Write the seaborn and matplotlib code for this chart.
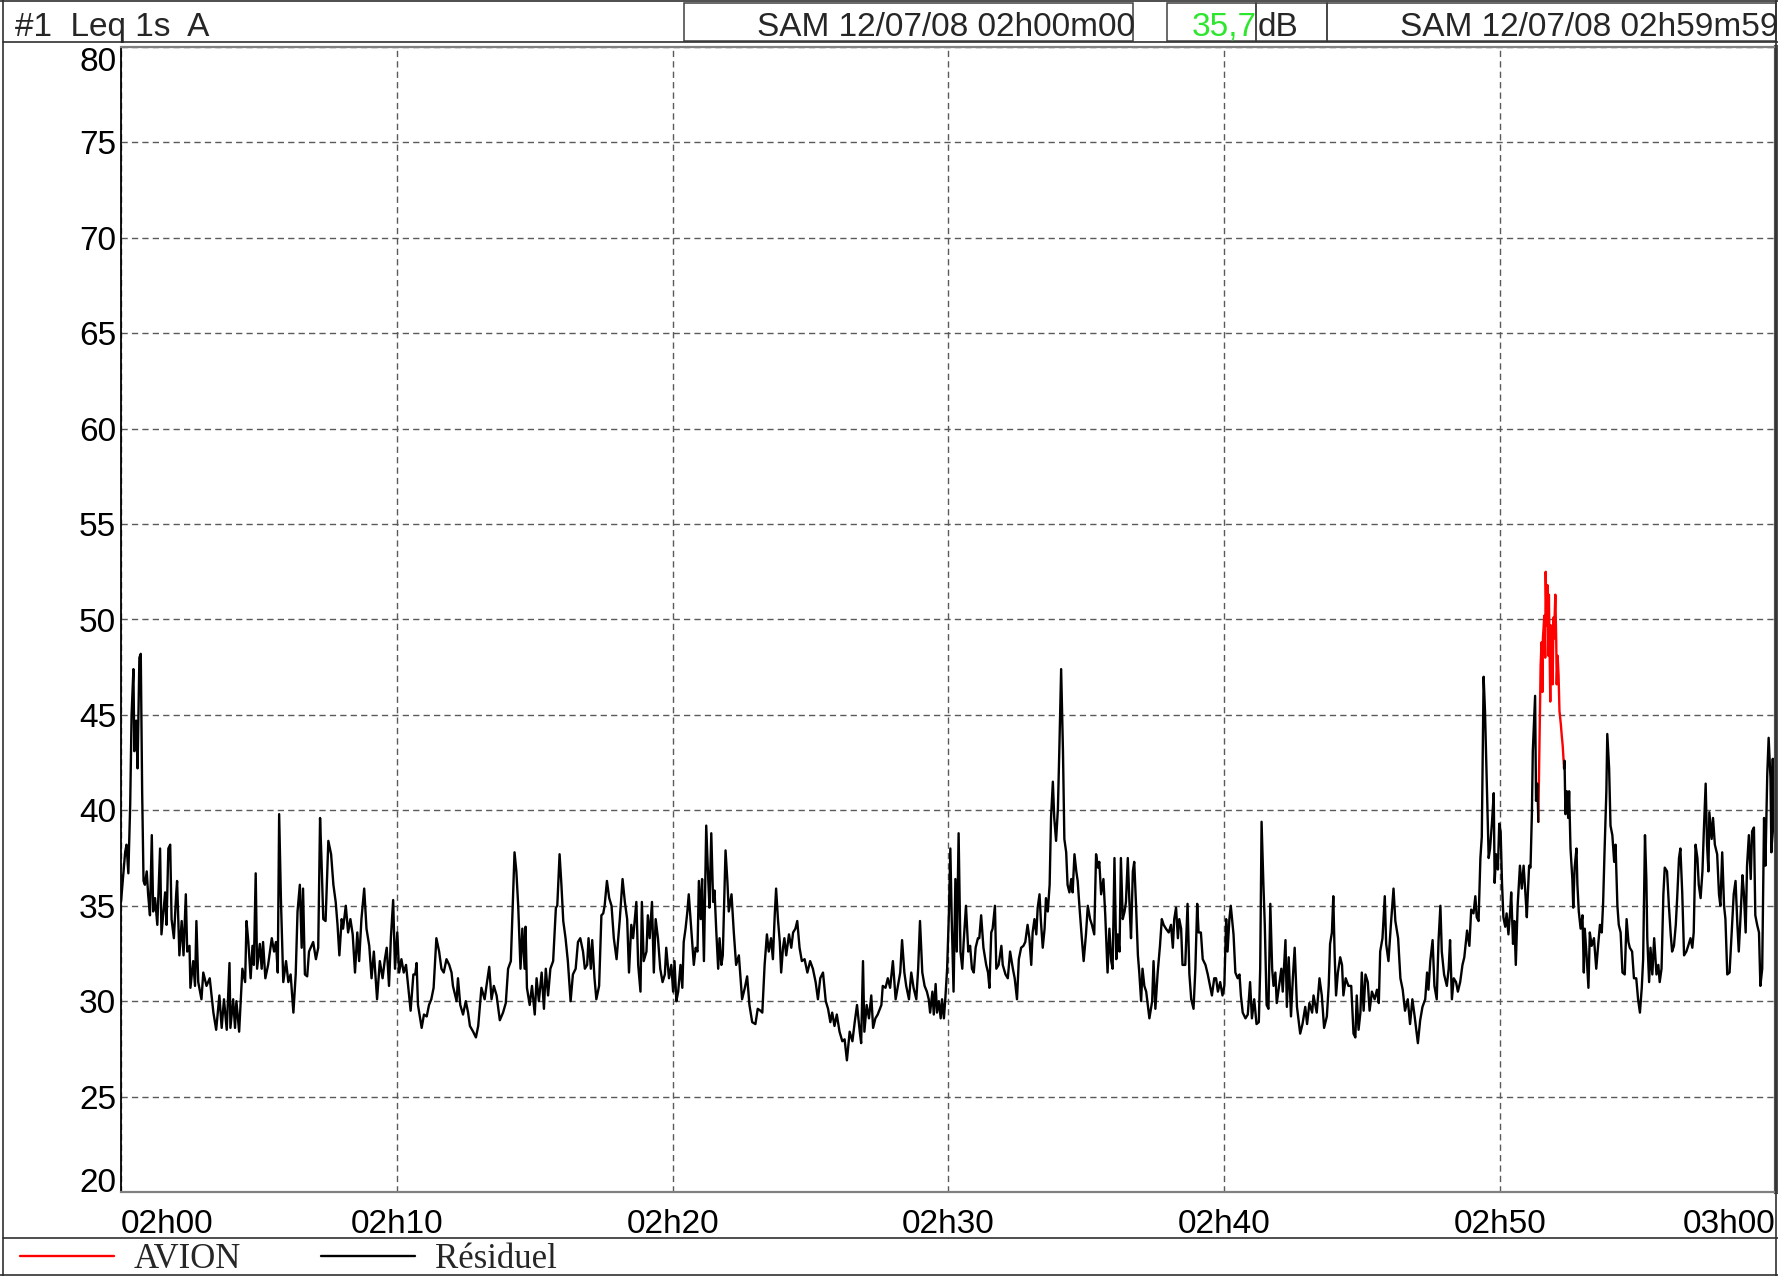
import matplotlib
matplotlib.use('Agg')
import matplotlib.pyplot as plt
import pandas as pd
import seaborn as sns
from matplotlib.lines import Line2D
from matplotlib.patches import Rectangle

W, H = 1778, 1276

# Leq 1s values: (seconds after 02h00m00, dB)
before = [
    (0, 35.2), (9, 37.8), (12, 38.2), (16, 36.7), (20, 40.3), (23, 45.0), (27, 47.4), (29, 43.1),
    (33, 44.7), (36, 42.2), (40, 48.0), (43, 48.2), (46, 41.0), (49, 36.3), (52, 36.1), (56, 36.8),
    (59, 35.6), (63, 34.5), (67, 38.7), (70, 34.7), (74, 35.4), (79, 34.0), (85, 38.0), (88, 33.5),
    (96, 35.7), (99, 34.0), (103, 38.0), (107, 38.2), (110, 34.3), (115, 33.3), (120, 35.6), (122, 36.3),
    (127, 32.4), (132, 34.2), (136, 32.4), (141, 35.6), (144, 32.6), (149, 32.9), (151, 30.7), (157, 32.1),
    (161, 30.8), (164, 34.2), (168, 31.0), (175, 30.1), (179, 31.5), (186, 30.8), (193, 31.2), (201, 29.4),
    (207, 28.5), (214, 30.3), (219, 28.6), (224, 30.1), (230, 28.5), (236, 32.0), (238, 28.6), (244, 30.1),
    (248, 28.6), (251, 30.0), (257, 28.4), (264, 31.7), (270, 31.0), (273, 34.2), (277, 33.1), (282, 31.2),
    (286, 32.9), (289, 31.9), (293, 36.7), (296, 31.7), (302, 33.0), (306, 31.7), (309, 33.1), (314, 31.2),
    (320, 31.9), (328, 33.3), (333, 32.6), (337, 33.1), (341, 31.5), (344, 39.8), (348, 35.2), (353, 31.0),
    (359, 32.1), (364, 31.0), (369, 31.4), (375, 29.4), (380, 31.4), (384, 34.7), (389, 36.1), (393, 32.8),
    (396, 35.9), (400, 31.4), (405, 31.3), (409, 32.6), (418, 33.1), (424, 32.2), (429, 32.8), (433, 39.6),
    (436, 37.5), (440, 34.3), (445, 34.2), (451, 38.4), (457, 37.7), (462, 36.1), (467, 35.2), (471, 34.0),
    (475, 32.4), (480, 34.3), (483, 33.8), (489, 35.0), (494, 33.6), (499, 34.3), (504, 33.5), (509, 31.5),
    (514, 33.6), (518, 32.1), (523, 34.3), (529, 35.9), (534, 33.8), (540, 32.9), (545, 31.2), (550, 32.6),
    (557, 30.1), (563, 32.1), (569, 31.2), (574, 32.2), (578, 32.8), (583, 30.8), (587, 33.3), (592, 35.3),
    (596, 31.7), (601, 33.6), (605, 31.5),
    (610, 32.2), (615, 31.5), (620, 31.9), (625, 30.7), (630, 29.5), (636, 31.4), (640, 31.4), (643, 32.0),
    (646, 29.8), (654, 28.6), (659, 29.3), (665, 29.2), (670, 29.8), (675, 30.1), (680, 30.7), (686, 33.3),
    (692, 32.6), (697, 31.7), (702, 31.5), (708, 32.2), (714, 31.9), (719, 31.5), (722, 30.8), (730, 30.0),
    (733, 31.2), (738, 29.8), (744, 29.3), (750, 30.0), (755, 29.4), (759, 28.7), (766, 28.4), (772, 28.1),
    (777, 28.7), (784, 30.7), (791, 30.1), (795, 30.8), (801, 31.8), (806, 30.1), (811, 30.8), (817, 30.3),
    (824, 29.0), (831, 29.4), (837, 29.9), (842, 31.7), (848, 32.1), (851, 34.3), (856, 37.8), (860, 36.8),
    (864, 35.0), (869, 31.7), (873, 33.8), (878, 31.7), (880, 33.9), (883, 30.7), (889, 29.8), (894, 30.8),
    (900, 29.3), (904, 31.2), (909, 30.0), (915, 31.5), (920, 29.6), (924, 31.7), (929, 30.3), (934, 31.7),
    (940, 32.1), (946, 34.9), (949, 35.0), (954, 37.7), (958, 36.1), (962, 34.2), (967, 33.3), (972, 32.1),
    (978, 30.0), (983, 31.4), (989, 31.7), (994, 33.1), (999, 33.3), (1005, 32.6), (1009, 31.7), (1014, 31.9),
    (1017, 33.3), (1022, 31.7), (1025, 33.2), (1030, 31.2), (1034, 30.1), (1040, 30.8), (1045, 34.5),
    (1049, 34.6), (1052, 35.0), (1057, 36.3), (1062, 35.4), (1067, 35.0), (1072, 33.3), (1078, 32.2),
    (1085, 34.3), (1091, 36.4), (1096, 35.2), (1101, 34.3), (1105, 31.5), (1110, 34.0), (1114, 33.3),
    (1121, 35.2), (1125, 31.9), (1130, 30.5), (1133, 35.2), (1137, 32.1), (1143, 32.6), (1146, 34.5),
    (1150, 33.3), (1155, 35.2), (1159, 31.5), (1163, 34.3), (1168, 33.3), (1173, 31.7), (1178, 31.0),
    (1183, 31.4), (1186, 32.8), (1192, 31.2), (1197, 31.9), (1201, 30.5), (1204, 32.1), (1208, 30.0),
    (1212, 30.5), (1217, 31.9), (1221, 30.7), (1224, 33.1), (1228, 33.8), (1232, 34.7), (1235, 35.6),
    (1241, 33.6), (1246, 31.9), (1250, 32.8), (1254, 32.6), (1257, 36.3), (1261, 34.3), (1264, 36.4),
    (1268, 32.1), (1273, 39.2), (1277, 36.6), (1280, 34.9), (1284, 38.8), (1288, 35.2), (1291, 35.8),
    (1295, 33.6), (1299, 31.7), (1302, 33.3), (1306, 31.9), (1309, 32.4), (1315, 37.9), (1319, 36.3),
    (1322, 34.7), (1328, 35.6), (1333, 33.6), (1338, 31.9), (1344, 32.4), (1351, 30.1), (1357, 30.7),
    (1362, 31.3), (1367, 29.8), (1373, 28.9), (1380, 28.8), (1385, 29.6), (1391, 29.5), (1395, 29.4),
    (1400, 31.9), (1405, 33.5), (1409, 32.6), (1414, 33.3), (1418, 32.2), (1422, 34.5), (1425, 35.9),
    (1429, 34.3), (1433, 33.1), (1436, 31.5), (1440, 32.8), (1443, 33.3), (1447, 32.4), (1453, 33.5),
    (1458, 32.8), (1462, 33.6), (1467, 33.8), (1471, 34.2), (1476, 32.8), (1481, 32.1), (1487, 32.2),
    (1493, 31.5), (1499, 32.1), (1505, 31.7), (1511, 31.0), (1516, 30.1), (1521, 31.2), (1527, 31.5),
    (1533, 30.0), (1538, 29.6), (1543, 28.9), (1547, 29.4), (1552, 28.7), (1557, 29.3), (1563, 28.4),
    (1569, 27.9), (1574, 28.0), (1579, 26.9), (1585, 28.4), (1591, 27.9), (1596, 28.9), (1601, 29.8),
    (1607, 28.4), (1610, 27.8), (1614, 32.1), (1617, 28.4), (1622, 29.8), (1627, 29.1), (1632, 30.3),
    (1636, 28.6), (1641, 29.1), (1646, 29.3), (1654, 29.8), (1657, 30.8), (1663, 30.7), (1668, 31.2),
    (1673, 30.7), (1679, 32.1), (1685, 30.1), (1690, 30.8), (1695, 31.5), (1699, 33.2), (1704, 31.5),
    (1708, 30.8), (1714, 30.1), (1719, 31.5), (1724, 30.7), (1730, 30.1), (1734, 31.7), (1738, 34.2),
    (1743, 31.5), (1748, 30.8), (1753, 30.5), (1757, 30.1), (1760, 29.4), (1765, 30.5), (1768, 29.3),
    (1772, 30.9), (1775, 29.4), (1779, 30.0), (1783, 29.1), (1786, 30.1), (1790, 29.1), (1793, 30.1),
    (1797, 31.7), (1801, 34.7), (1804, 38.0), (1807, 34.3), (1811, 30.5), (1815, 36.4), (1818, 32.6),
    (1822, 38.8), (1826, 32.6), (1830, 31.7), (1833, 33.1), (1838, 35.0), (1843, 32.6), (1847, 32.9),
    (1851, 31.7), (1855, 31.5), (1859, 32.8), (1864, 33.3),
    (1867, 33.3), (1871, 34.5), (1876, 32.8), (1882, 31.9), (1886, 31.5), (1889, 30.7), (1893, 33.6),
    (1896, 33.8), (1901, 35.0), (1904, 31.7), (1909, 31.9), (1915, 32.9), (1918, 31.9), (1924, 31.4),
    (1929, 31.2), (1934, 32.6), (1940, 31.7), (1944, 31.2), (1949, 30.1), (1953, 32.2), (1958, 32.8),
    (1963, 32.9), (1967, 33.1), (1972, 34.0), (1976, 33.3), (1980, 31.9), (1983, 33.6), (1987, 34.3),
    (1991, 33.5), (1994, 34.9), (1998, 35.6), (2001, 34.2), (2005, 32.8), (2009, 33.8), (2012, 35.4),
    (2016, 34.7), (2020, 36.1), (2023, 39.6), (2027, 41.5), (2030, 39.6), (2034, 38.4), (2038, 40.1),
    (2041, 43.1), (2045, 47.4), (2049, 43.1), (2052, 38.5), (2056, 37.8), (2059, 36.1), (2063, 35.7),
    (2067, 36.4), (2070, 35.7), (2074, 37.7), (2078, 36.8), (2081, 36.3), (2085, 34.9), (2090, 33.3),
    (2094, 32.1), (2099, 33.5), (2103, 35.0), (2108, 34.3), (2112, 34.0), (2117, 33.5), (2121, 37.7),
    (2125, 37.0), (2128, 37.3), (2132, 35.6), (2137, 36.4), (2141, 34.5), (2146, 31.5), (2150, 33.8),
    (2154, 32.1), (2157, 31.7), (2161, 37.5), (2165, 32.2), (2168, 33.5), (2172, 32.6), (2175, 37.5),
    (2179, 34.3), (2183, 34.7), (2186, 35.2), (2190, 37.5), (2194, 34.9), (2197, 33.3), (2201, 36.8),
    (2204, 37.3), (2208, 35.0), (2212, 32.4), (2215, 31.5), (2219, 30.0), (2222, 31.7), (2226, 30.8),
    (2230, 30.5), (2237, 29.1), (2243, 30.0), (2246, 32.1), (2250, 29.6), (2255, 31.5), (2260, 32.9),
    (2264, 34.3), (2268, 34.0), (2273, 33.8), (2279, 33.6), (2284, 34.0), (2288, 32.8), (2291, 34.3),
    (2295, 34.9), (2299, 33.3), (2302, 34.3), (2306, 33.8), (2309, 31.9), (2315, 31.9), (2320, 35.1),
    (2324, 31.4), (2328, 30.1), (2333, 29.6), (2337, 31.7), (2341, 35.1), (2344, 33.6), (2349, 33.6),
    (2353, 32.2), (2359, 31.9), (2364, 31.4), (2369, 30.8), (2373, 30.3), (2378, 31.2), (2382, 31.2),
    (2386, 30.5), (2391, 31.0), (2396, 30.3), (2400, 30.8), (2404, 34.3), (2407, 32.6), (2411, 34.3),
    (2414, 35.0), (2420, 33.5), (2424, 31.5), (2429, 31.2), (2433, 31.4), (2436, 30.3), (2440, 29.4),
    (2446, 29.1), (2451, 29.3), (2456, 31.0), (2460, 29.1), (2465, 30.1), (2470, 28.8), (2475, 28.9),
    (2478, 31.7), (2481, 39.4), (2485, 36.1), (2488, 34.0), (2492, 29.8), (2496, 29.6),
    (2500, 35.1), (2504, 31.7), (2507, 30.8), (2511, 31.5), (2514, 29.9), (2518, 30.6), (2524, 31.7),
    (2527, 30.5), (2533, 33.2), (2536, 29.7), (2540, 32.3), (2545, 29.2), (2549, 31.2), (2553, 32.8),
    (2558, 29.7), (2565, 28.3), (2570, 28.8), (2576, 29.7), (2580, 28.8), (2585, 29.9), (2591, 29.4),
    (2594, 30.3), (2601, 29.4), (2607, 31.2), (2612, 30.3), (2617, 28.6), (2623, 29.2), (2627, 30.8),
    (2630, 33.0), (2634, 33.6), (2637, 35.5), (2640, 32.4), (2643, 30.3), (2647, 31.5), (2652, 32.3),
    (2656, 31.9), (2659, 30.3), (2664, 31.2), (2670, 30.8), (2676, 30.8), (2681, 28.3), (2685, 28.1),
    (2688, 30.3), (2692, 28.5), (2696, 29.4), (2699, 31.5), (2703, 29.5), (2707, 31.4), (2712, 31.0),
    (2716, 29.5), (2721, 30.5), (2727, 30.1), (2732, 30.6), (2736, 29.9), (2739, 32.6), (2744, 33.3),
    (2749, 35.5), (2752, 33.0), (2757, 32.1), (2762, 33.9), (2768, 35.9), (2772, 34.2), (2778, 33.3),
    (2783, 31.2), (2788, 30.6), (2793, 29.5), (2799, 30.1), (2804, 28.8), (2809, 30.1), (2814, 29.2),
    (2821, 27.8), (2826, 29.0), (2831, 29.7), (2837, 30.1), (2841, 31.5), (2844, 30.6), (2848, 32.1),
    (2853, 33.2), (2857, 30.8), (2862, 30.1), (2866, 33.2), (2870, 35.0), (2873, 32.6), (2878, 31.4),
    (2884, 30.8), (2888, 31.7), (2891, 33.2), (2895, 30.1), (2899, 31.2), (2904, 31.0), (2908, 30.5),
    (2913, 31.0), (2918, 31.9), (2922, 32.3), (2928, 33.7), (2933, 32.9), (2937, 34.8), (2942, 34.6),
    (2946, 35.5), (2949, 34.4), (2953, 34.2), (2957, 37.5), (2960, 38.6), (2964, 47.0), (2967, 45.2),
    (2971, 41.3), (2975, 37.5), (2978, 38.0), (2982, 39.3), (2986, 40.9), (2988, 36.2), (2991, 37.7),
    (2995, 36.9), (2998, 39.3), (3001, 38.9), (3004, 36.2), (3007, 34.4), (3011, 33.9), (3014, 34.6),
    (3018, 33.5), (3022, 34.8), (3024, 35.7), (3028, 33.0), (3031, 34.2), (3034, 31.9), (3038, 35.0),
    (3043, 37.1), (3047, 35.9), (3051, 37.1), (3054, 36.0), (3058, 34.4), (3059, 35.0), (3063, 37.1),
    (3066, 37.0), (3069, 39.8), (3071, 43.1), (3074, 44.8), (3076, 46.0), (3078, 40.5), (3081, 41.4),
    (3083, 39.4),
]

avion = [
    (3083, 39.4), (3085, 42.7), (3087, 45.9), (3088, 47.6), (3090, 48.8), (3092, 46.2), (3093, 49.0),
    (3096, 50.2), (3098, 48.0), (3099, 52.5), (3101, 49.7), (3103, 51.8), (3105, 48.1), (3106, 51.3),
    (3109, 45.7), (3110, 49.7), (3112, 49.2), (3114, 46.6), (3116, 50.1), (3117, 49.0), (3120, 51.3),
    (3122, 48.8), (3123, 46.6), (3125, 48.1), (3127, 47.1), (3129, 45.2), (3132, 44.5), (3134, 43.9),
    (3136, 43.4), (3139, 42.2),
]

after = [
    (3139, 42.2), (3140, 42.6), (3142, 39.8), (3145, 41.0), (3148, 39.6), (3150, 41.0), (3153, 38.0),
    (3157, 36.4), (3159, 34.9), (3162, 37.0), (3166, 38.0), (3168, 36.1), (3171, 34.7), (3175, 33.8),
    (3179, 34.5), (3182, 31.5), (3184, 33.8), (3188, 32.4), (3192, 30.7), (3195, 33.6), (3199, 32.9),
    (3204, 33.3), (3209, 31.7), (3213, 32.9), (3217, 34.0), (3221, 33.6), (3224, 35.2), (3227, 37.8),
    (3231, 41.0), (3233, 44.0), (3237, 42.2), (3240, 39.2), (3244, 38.7), (3248, 37.3), (3251, 38.2),
    (3255, 35.0), (3258, 34.0), (3262, 33.6), (3266, 31.5), (3271, 31.4), (3275, 34.3), (3279, 33.1),
    (3282, 32.8), (3287, 32.6), (3291, 31.2), (3296, 31.2), (3300, 30.1), (3304, 29.4), (3308, 30.7),
    (3311, 32.2), (3315, 38.7), (3318, 36.4), (3320, 33.3), (3324, 31.0), (3327, 32.8), (3331, 31.4),
    (3335, 33.3), (3340, 31.4), (3344, 31.9), (3347, 31.0), (3351, 31.7), (3355, 35.6), (3358, 37.0),
    (3363, 36.8), (3367, 35.0), (3371, 33.5), (3374, 32.6), (3378, 32.9), (3382, 34.0), (3385, 35.4),
    (3389, 37.5), (3392, 38.0), (3396, 35.7), (3400, 32.4), (3405, 32.6), (3409, 32.9), (3414, 33.3),
    (3418, 32.8), (3421, 33.6), (3425, 38.2), (3429, 37.5), (3432, 36.1), (3436, 35.4), (3440, 36.8),
    (3443, 38.9), (3447, 41.4), (3450, 38.2), (3453, 36.8), (3455, 39.9), (3460, 38.5), (3463, 39.6),
    (3467, 38.2), (3472, 37.7), (3476, 35.6), (3479, 35.0), (3483, 37.8), (3487, 35.0), (3490, 34.3),
    (3494, 31.4), (3499, 31.5), (3503, 33.3), (3508, 35.6), (3512, 36.3), (3516, 34.0), (3519, 32.6),
    (3523, 34.5), (3527, 36.6), (3530, 35.7), (3534, 33.6), (3537, 37.1), (3541, 38.7), (3545, 36.4),
    (3548, 38.9), (3552, 39.1), (3555, 34.5), (3559, 34.0), (3563, 33.6), (3566, 30.8), (3570, 31.7),
    (3574, 39.6), (3577, 37.1), (3581, 41.9), (3584, 43.8), (3588, 41.7), (3590, 37.8), (3593, 42.7),
    (3595, 39.2), (3599, 38.0),
]

x_ticks = [0, 600, 1200, 1800, 2400, 3000, 3600]
x_labels = ['02h00', '02h10', '02h20', '02h30', '02h40', '02h50', '03h00']
y_ticks = [20, 25, 30, 35, 40, 45, 50, 55, 60, 65, 70, 75, 80]

header_left = '#1  Leq 1s  A'
start_txt = 'SAM 12/07/08 02h00m00'
level_txt = '35,7'
unit_txt = 'dB'
end_txt = 'SAM 12/07/08 02h59m59'

rows = []
for seg, (name, pts) in enumerate([('Résiduel', before), ('AVION', avion), ('Résiduel', after)]):
    for t, db in pts:
        rows.append({'t': t, 'dB': db, 'source': name, 'seg': seg})
df = pd.DataFrame(rows)

sns.set_style('white')
plt.rcParams['font.family'] = ['Liberation Sans', 'DejaVu Sans']
plt.rcParams['lines.scale_dashes'] = False


def fx(x):
    return x / W


def fy(y):
    return 1 - y / H


fig = plt.figure(figsize=(W / 100, H / 100), dpi=100)
ax = fig.add_axes([fx(121), fy(1192), (1776 - 121) / W, (1192 - 47) / H])

sns.lineplot(data=df, x='t', y='dB', hue='source', units='seg', estimator=None, sort=False,
             hue_order=['AVION', 'Résiduel'], palette={'AVION': '#ff0000', 'Résiduel': 'black'},
             linewidth=1.7, ax=ax)

ax.set_xlim(0, 3600)
ax.set_ylim(20, 80)
ax.set_xticks(x_ticks)
ax.set_xticklabels(x_labels)
ax.set_yticks(y_ticks)
ax.set_yticklabels([str(v) for v in y_ticks])
ax.set_xlabel('')
ax.set_ylabel('')
ax.grid(True, color='#5a5a5a', linestyle=(0, (4.5, 3)), linewidth=1.0)
ax.tick_params(axis='both', direction='out', colors='#606060', labelcolor='black', labelsize=24)
ax.tick_params(axis='y', length=4.5, width=1, pad=-1)
ax.tick_params(axis='x', length=4, width=1, pad=8)

lbls = ax.get_yticklabels()
lbls[0].set_va('baseline')
lbls[-1].set_va('top')
xl = ax.get_xticklabels()
xl[0].set_ha('left')
xl[-1].set_ha('right')

for side in ['top', 'bottom']:
    ax.spines[side].set_color('#808080')
    ax.spines[side].set_linewidth(1.6)
ax.spines['left'].set_color('black')
ax.spines['left'].set_linewidth(1.3)
ax.spines['right'].set_color('#505050')
ax.spines['right'].set_linewidth(3)

sns.move_legend(ax, 'center left', bbox_to_anchor=(fx(20), fy(1260)), bbox_transform=fig.transFigure,
                ncol=2, frameon=False, title=None, prop={'family': 'Liberation Serif', 'size': 25},
                handlelength=2.7, handletextpad=0.58, columnspacing=2.3, borderpad=0, borderaxespad=0)
for h in ax.get_legend().legend_handles:
    h.set_linewidth(1.7)

# frame, header and legend separators
frame = [((3, 0), (3, H)), ((0, 1), (W, 1)), ((0, H - 1), (W, H - 1)), ((3, 42), (W, 42)),
         ((3, 1238), (W, 1238)), ((W - 2, 0), (W - 2, H))]
for (x0, y0), (x1, y1) in frame:
    fig.add_artist(Line2D([fx(x0), fx(x1)], [fy(y0), fy(y1)], transform=fig.transFigure,
                          color='#303030', linewidth=1.2))

for x0, x1 in [(684, 1133), (1167, 1256), (1256, 1327), (1327, 1776)]:
    fig.add_artist(Rectangle((fx(x0), fy(41)), (x1 - x0) / W, 38 / H, transform=fig.transFigure,
                             fill=False, edgecolor='#404040', linewidth=1.1))

fs = 24
fig.text(fx(15), fy(36), header_left, fontsize=fs, ha='left', va='baseline')
fig.text(fx(1135), fy(36), start_txt, fontsize=fs, ha='right', va='baseline')
fig.text(fx(1257), fy(36), level_txt, fontsize=fs, ha='right', va='baseline', color='#2ee62e')
fig.text(fx(1258), fy(36), unit_txt, fontsize=fs, ha='left', va='baseline')
fig.text(fx(1778), fy(36), end_txt, fontsize=fs, ha='right', va='baseline')

fig.savefig('out.png', dpi=100)
